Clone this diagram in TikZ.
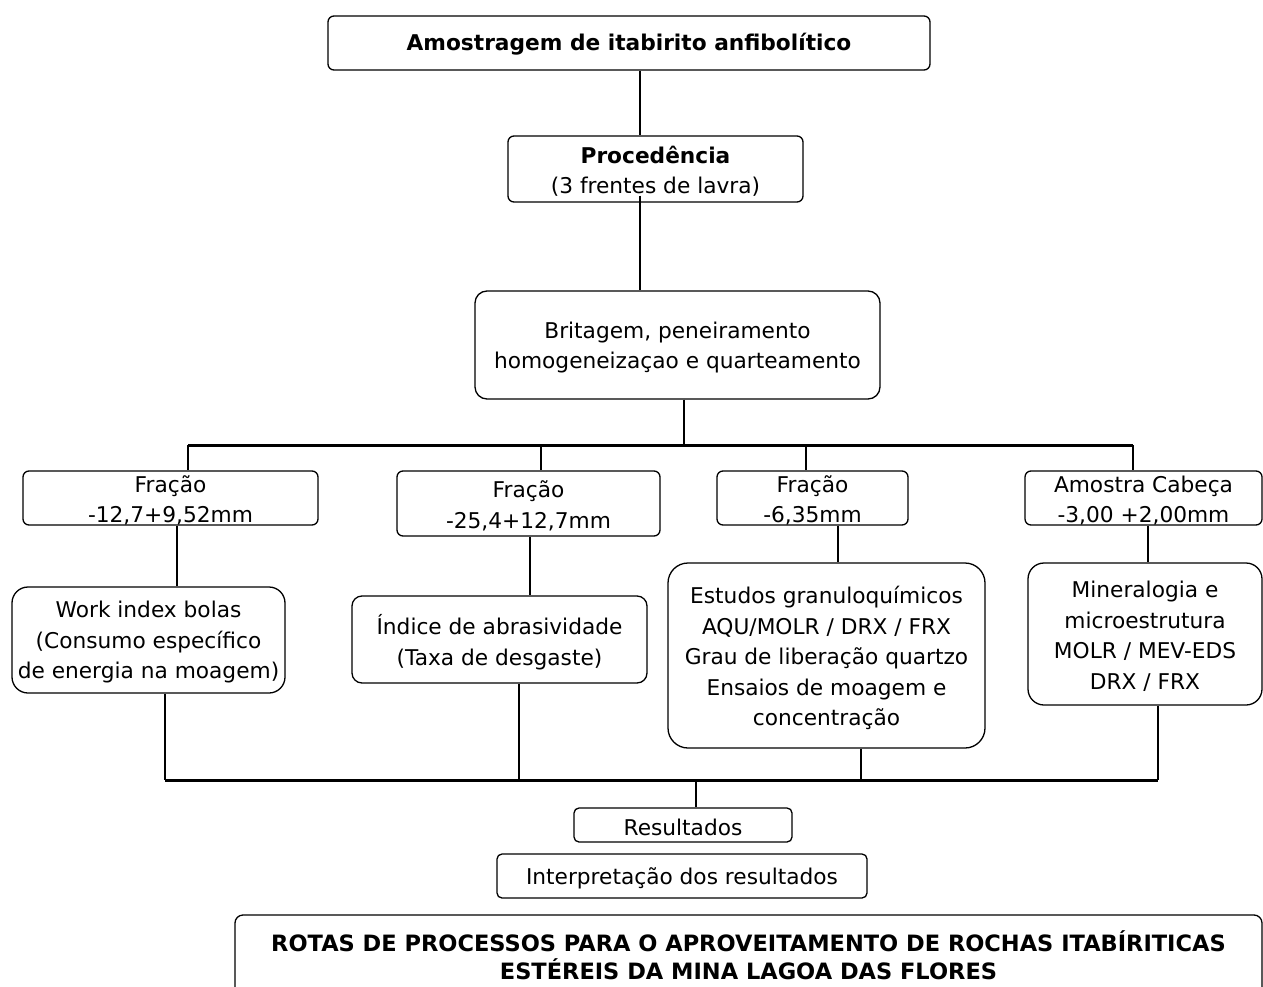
\documentclass[tikz,border=0pt]{standalone}
\usepackage{fontspec}
\setmainfont{DejaVu Sans}
\begin{document}
\begin{tikzpicture}[x=1pt,y=-1pt,
  frame/.style={draw=black,line width=1.3pt,rounded corners=6pt,inner sep=0pt,fill=white},
  bigframe/.style={frame,rounded corners=16pt},
  txt/.style={font=\fontsize{21.7}{30.5}\selectfont,align=center,inner sep=0pt,yshift=-2.5pt},
  conn/.style={line width=2pt},
  bus/.style={line width=3pt}]
\useasboundingbox[fill=white] (0,0) rectangle (1263,987);

% helper x positions for vertical connectors
\coordinate (x640) at (640,0);
\coordinate (x177) at (177,0);
\coordinate (x530) at (530,0);
\coordinate (x838) at (838,0);
\coordinate (x1148) at (1148,0);

% boxes
\node[frame,minimum width=602,minimum height=54,
  label={[txt,yshift=1.5pt]center:\textbf{Amostragem de itabirito anfibolítico}}] (top) at (629,43) {};
\node[frame,minimum width=295,minimum height=66,
  label={[txt]center:\textbf{Procedência}\\(3 frentes de lavra)}] (proc) at (655.5,169) {};
\node[frame,rounded corners=12pt,minimum width=405,minimum height=108,
  label={[txt]center:Britagem, peneiramento\\homogeneizaçao e quarteamento}] (brit) at (677.5,345) {};

\node[frame,minimum width=295,minimum height=54,
  label={[txt]center:Fração\\-12,7+9,52mm}] (f1) at (170.5,498) {};
\node[frame,minimum width=263,minimum height=65,
  label={[txt]center:Fração\\-25,4+12,7mm}] (f2) at (528.5,503.5) {};
\node[frame,minimum width=191,minimum height=54,
  label={[txt]center:Fração\\-6,35mm}] (f3) at (812.5,498) {};
\node[frame,minimum width=237,minimum height=54,
  label={[txt]center:Amostra Cabeça\\-3,00 +2,00mm}] (f4) at (1143.5,498) {};

\node[bigframe,minimum width=273,minimum height=106,
  label={[txt]center:Work index bolas\\(Consumo específico\\de energia na moagem)}] (wi) at (148.5,640) {};
\node[frame,rounded corners=10pt,minimum width=295,minimum height=87,
  label={[txt]center:Índice de abrasividade\\(Taxa de desgaste)}] (ind) at (499.5,639.5) {};
\node[bigframe,rounded corners=20pt,minimum width=317,minimum height=185,
  label={[txt]center:Estudos granuloquímicos\\AQU/MOLR / DRX / FRX\\Grau de liberação quartzo\\Ensaios de moagem e\\concentração}] (est) at (826.5,655.5) {};
\node[bigframe,minimum width=234,minimum height=142,
  label={[txt]center:Mineralogia e\\microestrutura\\MOLR / MEV-EDS\\DRX / FRX}] (min) at (1145,634) {};

\node[frame,rounded corners=5pt,minimum width=218,minimum height=34,
  label={[txt]center:Resultados}] (res) at (683,825) {};
\node[frame,rounded corners=5pt,minimum width=370,minimum height=44,
  label={[txt]center:Interpretação dos resultados}] (interp) at (682,876) {};
\node[frame,rounded corners=8pt,minimum width=1027,minimum height=85,
  label={[txt,yshift=4.5pt,font=\fontsize{22.5}{28}\selectfont\bfseries]center:ROTAS DE PROCESSOS PARA O APROVEITAMENTO DE ROCHAS ITABÍRITICAS\\ESTÉREIS DA MINA LAGOA DAS FLORES}] (title) at (748.5,957.5) {};

% upper connectors
\draw[conn] (top.south -| x640) -- (proc.north -| x640);
\draw[conn] ([yshift=7pt]proc.south -| x640) -- (brit.north -| x640);

% distribution bus
\coordinate (j0) at (684,445);
\coordinate (jA) at (188,445);
\coordinate (jB) at (541,445);
\coordinate (jC) at (806,445);
\coordinate (jD) at (1133,445);
\draw[conn] (brit.south -| j0) -- (j0);
\draw[bus] (jA) -- (jD);
\draw[conn] (jA) -- (f1.north -| jA);
\draw[conn] (jB) -- (f2.north -| jB);
\draw[conn] (jC) -- (f3.north -| jC);
\draw[conn] (jD) -- (f4.north -| jD);

% fraction to analysis
\draw[conn] (f1.south -| x177) -- (wi.north -| x177);
\draw[conn] (f2.south -| x530) -- (ind.north -| x530);
\draw[conn] (f3.south -| x838) -- (est.north -| x838);
\draw[conn] (f4.south -| x1148) -- (min.north -| x1148);

% collecting bus
\coordinate (k1) at (165,780);
\coordinate (k2) at (519,780);
\coordinate (k3) at (861,780);
\coordinate (k4) at (1158,780);
\coordinate (kR) at (696,780);
\draw[conn] (wi.south -| k1) -- (k1);
\draw[conn] (ind.south -| k2) -- (k2);
\draw[conn] (est.south -| k3) -- (k3);
\draw[conn] (min.south -| k4) -- (k4);
\draw[bus] (k1) -- (k4);
\draw[conn] (kR) -- (res.north -| kR);
\end{tikzpicture}
\end{document}
